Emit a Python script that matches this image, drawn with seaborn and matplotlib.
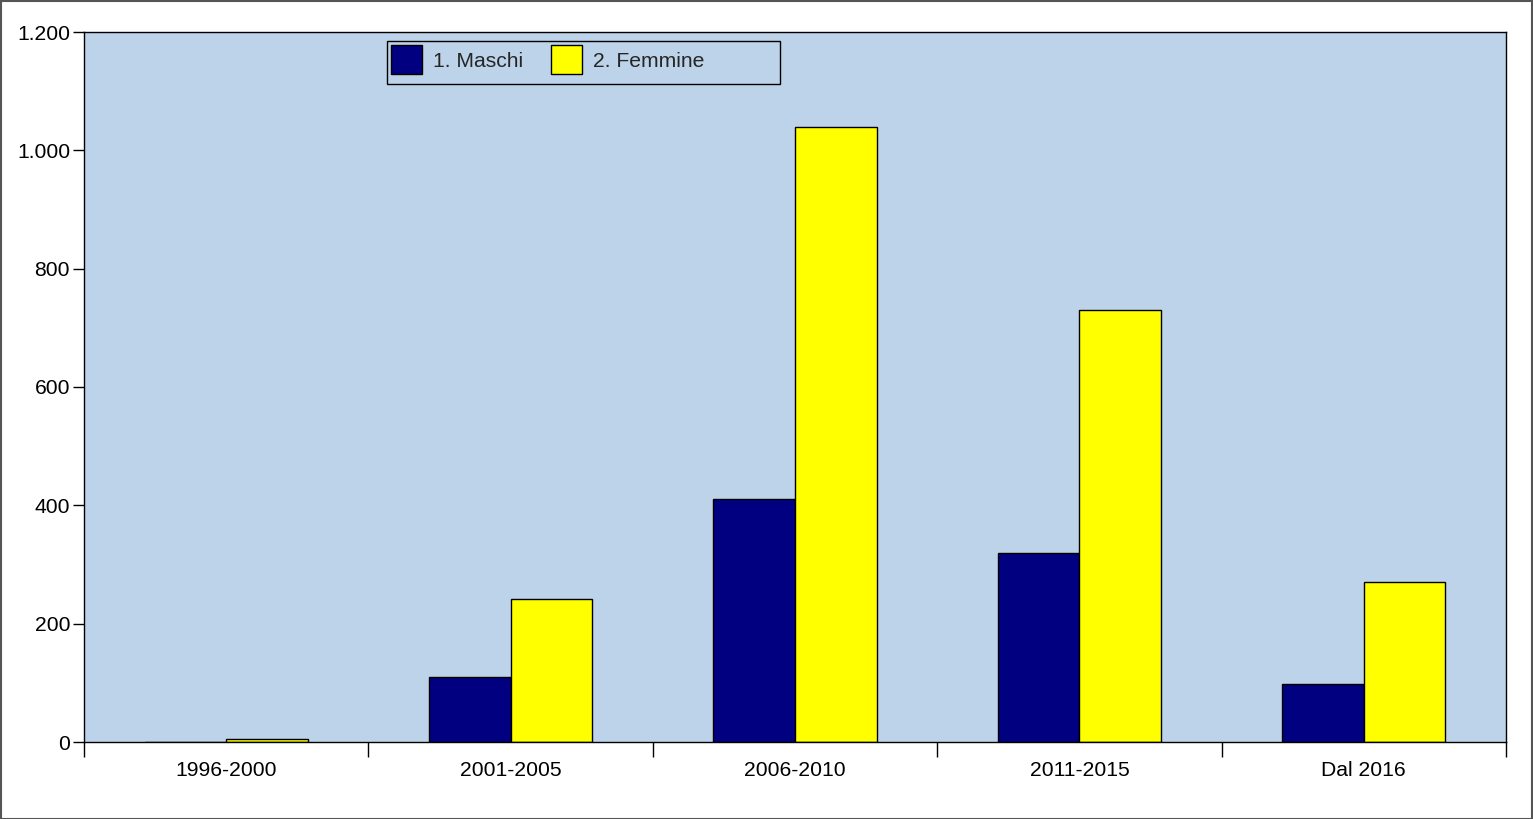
import matplotlib
matplotlib.use("Agg")
import matplotlib.pyplot as plt
import matplotlib.ticker as mticker
from matplotlib.patches import Rectangle
import seaborn as sns
import pandas as pd

categories = ["1996-2000", "2001-2005", "2006-2010", "2011-2015", "Dal 2016"]
series_names = ["1. Maschi", "2. Femmine"]
maschi = [0, 110, 411, 319, 98]
femmine = [5, 242, 1040, 730, 270]
yticks = [0, 200, 400, 600, 800, 1000, 1200]
colors = ["#000080", "#FFFF00"]

df = pd.DataFrame({
    "periodo": categories * 2,
    "sesso": [series_names[0]] * len(categories) + [series_names[1]] * len(categories),
    "valore": maschi + femmine,
})

sns.set_theme(style="white")
plt.rcParams["font.family"] = ["Liberation Sans", "DejaVu Sans"]

W, H = 1533, 819
fig = plt.figure(figsize=(W / 100, H / 100), dpi=100)
ax = fig.add_axes([84 / W, 1 - 742 / H, (1506 - 84) / W, (742 - 32) / H])
ax.set_facecolor("#BDD3E9")

sns.barplot(data=df, x="periodo", y="valore", hue="sesso", order=categories,
            hue_order=series_names, palette=colors, width=0.574, gap=0,
            edgecolor="black", linewidth=1.0, saturation=1, ax=ax)

ax.set_xlim(-0.5, len(categories) - 0.5)
ax.set_ylim(0, 1200)
ax.set_yticks(yticks)
ax.yaxis.set_major_formatter(mticker.FuncFormatter(lambda v, p: f"{int(v):,}".replace(",", ".")))
ax.set_xlabel("")
ax.set_ylabel("")

ax.set_xticks(range(len(categories)))
ax.set_xticklabels(categories)
ax.set_xticks([i - 0.5 for i in range(len(categories) + 1)], minor=True)
ax.tick_params(axis="x", which="major", length=0, pad=14, labelsize=15.2, colors="black")
ax.tick_params(axis="x", which="minor", length=11, width=1, color="black", direction="out", bottom=True)
ax.tick_params(axis="y", which="major", length=8, width=1, color="black", direction="out",
               left=True, labelsize=15.2, labelcolor="black", pad=2)

for s in ax.spines.values():
    s.set_color("black")
    s.set_linewidth(1.0)

handles, labels = ax.get_legend_handles_labels()
leg = ax.legend(handles, labels, ncol=2, loc="upper left",
                bbox_to_anchor=((387 - 84) / 1422, (742 - 41) / 710),
                borderaxespad=0, frameon=False, fontsize=15.2,
                handlelength=1.45, handleheight=1.75, handletextpad=0.55,
                columnspacing=1.3, borderpad=0.2)

# legend frame (wider than its contents, as in the original)
ax.add_patch(Rectangle(((387 - 84) / 1422, (742 - 84) / 710), (780 - 387) / 1422, 43 / 710,
                       transform=ax.transAxes, fill=False, edgecolor="black",
                       linewidth=1.0, zorder=5))

fig.patches.append(Rectangle((0.5 / W, 0.5 / H), 1 - 1.5 / W, 1 - 1.5 / H,
                             transform=fig.transFigure, fill=False,
                             edgecolor="#555555", linewidth=1.5))

fig.savefig("out.png", dpi=100)
